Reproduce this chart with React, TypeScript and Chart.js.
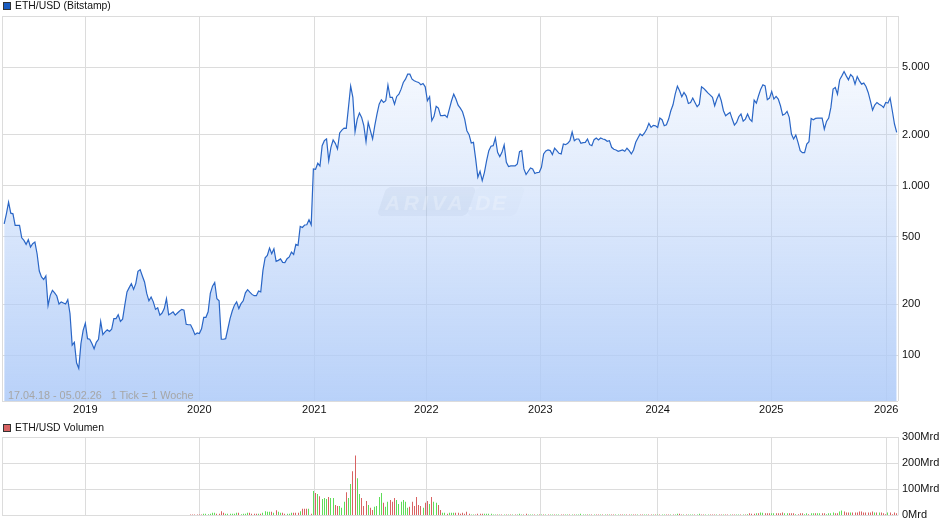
import React, { useEffect, useRef } from 'react';
import { Chart, registerables } from 'chart.js';

Chart.register(...registerables);

const FONT = '"Liberation Sans", Arial, sans-serif';

// week index 0 = 17.04.18, one value per week
const prices2018 = [595, 681, 798, 687, 681, 582, 582, 582, 492, 475, 450, 479, 434, 454, 464, 396, 313, 289, 279, 293, 196, 225, 241, 233, 223, 200, 206, 203, 200, 212, 176, 114.5, 119, 90, 83.5, 117, 140];
const prices2019 = [154, 125, 124, 117, 109, 119, 124, 158, 132, 137, 141, 138, 142, 164, 164, 173, 158, 163, 197, 236, 250, 264, 244, 264, 312, 319, 293, 270, 231, 209, 220, 206, 186, 190, 172, 177, 188, 215, 173, 176, 180, 172, 177, 182, 186, 184, 152, 151, 151, 142, 132, 135];
const prices2020 = [134, 143, 167, 167, 180, 231, 255, 268, 215, 209, 124, 124, 125, 143, 164, 182, 197, 206, 188, 201, 209, 233, 243, 235, 228, 224, 224, 239, 236, 316, 375, 387, 428, 396, 424, 357, 362, 369, 352, 351, 370, 379, 405, 392, 450, 444, 574, 566, 585, 587, 628, 587];
const prices2021 = [1253, 1247, 1353, 1305, 1719, 1840, 1882, 1403, 1681, 1856, 1774, 1643, 2042, 2124, 2183, 2173, 2890, 3857, 3311, 2080, 2466, 2675, 2523, 2254, 1815, 2358, 2106, 1882, 2254, 2640, 3020, 3206, 3090, 3162, 3910, 3311, 3311, 3020, 3353, 3460, 3704, 4055, 4240, 4540, 4540, 4240, 4146, 4092, 4055, 3929, 4000, 3823];
const prices2022 = [3162, 3338, 2412, 2558, 2929, 2863, 2582, 2582, 2604, 2523, 2825, 3162, 3460, 3236, 2981, 2863, 2725, 2466, 2106, 1995, 1783, 1798, 1435, 1119, 1214, 1070, 1197, 1403, 1607, 1704, 1719, 1907, 1570, 1481, 1570, 1735, 1372, 1293, 1305, 1305, 1305, 1342, 1585, 1607, 1253, 1161, 1214, 1270, 1253, 1177, 1193, 1197];
const prices2023 = [1282, 1536, 1600, 1621, 1607, 1522, 1660, 1607, 1549, 1536, 1758, 1742, 1774, 1840, 2069, 1840, 1882, 1882, 1774, 1790, 1798, 1882, 1742, 1719, 1865, 1907, 1856, 1907, 1882, 1865, 1823, 1840, 1681, 1636, 1621, 1592, 1607, 1621, 1592, 1660, 1607, 1536, 1621, 1798, 1907, 2014, 1968, 2042, 2153, 2327, 2203, 2264, 2254];
const prices2024 = [2203, 2500, 2445, 2254, 2285, 2466, 2762, 2994, 3460, 3857, 3622, 3338, 3540, 3383, 3050, 3090, 3280, 3090, 2917, 3020, 3823, 3741, 3622, 3508, 3415, 3311, 2955, 3236, 3460, 3162, 2762, 2582, 2640, 2700, 2466, 2275, 2358, 2547, 2640, 2400, 2466, 2640, 2466, 2390, 3190, 3063, 3383, 3704, 3929, 3873, 3206, 3280];
const prices2025 = [3589, 3236, 3353, 3236, 2955, 2604, 2640, 2737, 2523, 2014, 1882, 1986, 1798, 1607, 1563, 1563, 1758, 1815, 2489, 2445, 2489, 2500, 2500, 2500, 2153, 2390, 2500, 2890, 3704, 3786, 3460, 4203, 4436, 4705, 4436, 4203, 4519, 4375, 3963, 4396, 4146, 3963, 4018, 3840, 3540, 3162, 2786, 2981, 3090, 3020, 2969, 2890];
const prices2026 = [3090, 3063, 3280, 2762, 2306, 2060];
const priceChunks: [number, number[]][] = [
  [0, prices2018], [37, prices2019], [89, prices2020], [141, prices2021], [193, prices2022],
  [245, prices2023], [298, prices2024], [350, prices2025], [402, prices2026],
];

const volumeStartWeek = 85;
const volumes = [
  2.5, 2.5, 2.5, 2.5, 2.5, 2.5, 6, 6, 4, 6,
  10, 10, 6, 6, 16, 10, 6, 6, 6, 6,
  6, 10, 10, 4, 6, 6, 10, 10, 6, 6,
  6, 6, 6, 10, 16, 14, 14, 14, 10, 20,
  14, 10, 10, 6, 6, 6, 10, 10, 10, 10,
  16, 25, 25, 25, 25, 6,
  93, 86, 82, 73, 63, 67, 63, 70, 67, 67,
  40, 36, 36, 29, 52, 89, 67, 120, 169, 229,
  142, 82, 67, 36, 55, 40, 29, 21, 33, 36,
  70, 86, 48, 33, 52, 59, 52, 67, 59, 44,
  52, 59, 52, 29, 33, 52, 36, 70, 40, 36,
  29, 48, 55, 44, 70, 52, 48, 40, 21, 10,
  10, 6, 10, 10, 10, 10, 10, 6, 10, 6,
  14, 6, 2.5, 2.5, 2.5, 6, 6, 6, 6, 6,
  6, 6, 2.5, 2.5, 2.5,
  3, 3, 2, 2, 3, 2, 3, 3, 3, 6,
  3, 2, 6, 3, 2, 2, 2, 2, 2, 3,
  2, 3, 3, 2, 2, 2, 3, 2, 3, 2,
  3, 2, 3, 3, 2, 3, 3, 6, 3, 2,
  2, 3, 2, 2, 3, 2, 3, 2, 2, 3,
  2, 2, 3, 3, 2, 2, 3, 2, 3, 2,
  3, 2, 3, 2, 2, 2, 3, 2, 3, 2,
  2, 3, 2, 3, 3, 2, 2, 3, 2, 3,
  3, 6, 6, 3, 2, 3, 2, 2,
  3, 2, 2, 6, 3, 2, 2, 2, 3, 2,
  3, 2, 2, 3, 2, 3, 2, 3, 3, 2,
  3, 2, 2, 3, 2, 4,
  8, 6, 6, 8, 8, 11, 10, 8, 8, 8,
  8, 8, 8, 8, 8, 11, 8, 8, 8, 8,
  8, 4, 4, 8, 8, 4, 8, 4, 8, 8,
  8, 8, 8, 8, 8, 4, 8, 8, 11, 8,
  8, 15, 19, 15, 11, 11, 11, 11, 11, 11,
  15, 15, 11, 11, 11, 11, 15, 11, 11, 11,
  11, 8, 4, 11, 11, 4, 11, 8,
];
// g = week closed up, r = week closed down
const volumeTrend = [
  'rrrrrrgggg', 'ggrrrrgggg', 'ggrggggrrr', 'rgrggggrgr', 'ggrrgggrrr', 'grrrgr',
  'grgrgggrgg', 'rrgggrggrr', 'ggrrrgrrgg', 'ggrggrrrgg', 'ggggrrrrrr', 'grrgrggrrg', 'grgggrrrrr', 'rrggrrrrgg', 'ggggr',
  'grgrgrgrgg', 'grrgggrgrg', 'rgrggrggrr', 'ggrgrggggg', 'rgrgrrgrgr', 'grrggrrgrr', 'grrgrrggrr', 'grgrggrrgr', 'ggrrgrgg', 'grggrrggrr', 'rgrrgrrgrr', 'ggrgrg',
  'rrrgrggrrr', 'ggrrrrggrr', 'rgrrrggrgg', 'rggrrggggr', 'rggrrrgrrr', 'rrrrrrrgrg', 'rrrgrrrr',
].join('');

const yearWeeks = [37, 89, 141.4, 192.5, 244.5, 298, 349.8, 402.2];
const yearLabels = ['2019', '2020', '2021', '2022', '2023', '2024', '2025', '2026'];
const priceTicks = [100, 200, 500, 1000, 2000, 5000];
const volumeTicks = [0, 100, 200, 300];

const X_MIN = -1;
const X_MAX = 407.6;
const PRICE_MIN = 53.6;
const PRICE_MAX = 10000;

const GRID = '#dcdcdc';
const TICK_FONT = { family: FONT, size: 11 };

const pricePoints = priceChunks.flatMap(([start, values]) => values.map((y, i) => ({ x: start + i, y })));
const volumePoints = volumes.map((y, i) => ({ x: volumeStartWeek + i, y }));

const frameTicks = [X_MIN, ...yearWeeks, X_MAX];
const xTickLabel = (value: number) => {
  const i = yearWeeks.indexOf(value);
  return i >= 0 ? yearLabels[i] : '';
};

// the ARIVA.DE stamp behind the line
const watermark = {
  id: 'watermark',
  afterDatasetsDraw(chart: Chart) {
    const c = chart.ctx;
    c.save();
    c.transform(1, 0, -0.34, 1, 386.5, 187);
    c.beginPath();
    c.roundRect(0, 0, 90, 29, 5);
    c.fillStyle = 'rgba(90,110,150,0.07)';
    c.fill();
    c.beginPath();
    c.roundRect(90, 0, 49, 29, 5);
    c.fillStyle = 'rgba(90,110,150,0.025)';
    c.fill();
    c.restore();
    c.save();
    c.font = `italic bold 21px ${FONT}`;
    c.textBaseline = 'alphabetic';
    c.fillStyle = 'rgba(255,255,255,0.24)';
    c.letterSpacing = '3.5px';
    c.fillText('ARIVA', 385, 210);
    c.letterSpacing = '1.5px';
    c.fillText('.DE', 468, 210);
    c.restore();
  },
};

// one-pixel bars sit on whole pixels, as in the original image
const snapBars = {
  id: 'snapBars',
  afterDatasetsUpdate(chart: Chart) {
    chart.getDatasetMeta(0).data.forEach((bar: any) => {
      bar.x = Math.floor(bar.x) + 0.5;
    });
  },
};

const labelStyle: React.CSSProperties = {
  position: 'absolute',
  font: `10.4px ${FONT}`,
  lineHeight: '12px',
  color: '#111',
  whiteSpace: 'pre',
};

const swatch = (top: number, color: string): React.CSSProperties => ({
  position: 'absolute',
  left: 3,
  top,
  width: 6,
  height: 6,
  background: color,
  border: '1px solid #333',
});

const App: React.FC = () => {
  const priceRef = useRef<HTMLCanvasElement | null>(null);
  const volumeRef = useRef<HTMLCanvasElement | null>(null);

  useEffect(() => {
    if (!priceRef.current || !volumeRef.current) return;

    const priceChart = new Chart(priceRef.current, {
      type: 'line',
      data: {
        datasets: [
          {
            data: pricePoints,
            borderColor: '#2a66c6',
            borderWidth: 1.2,
            pointRadius: 0,
            tension: 0,
            fill: 'start',
            backgroundColor: (ctx: any) => {
              const area = ctx.chart.chartArea;
              if (!area) return 'transparent';
              const g = ctx.chart.ctx.createLinearGradient(0, area.top, 0, area.bottom);
              g.addColorStop(0, 'rgba(175,203,248,0)');
              g.addColorStop(1, 'rgba(175,203,248,0.88)');
              return g;
            },
          },
        ],
      },
      options: {
        responsive: false,
        animation: false,
        layout: { padding: { left: 2, top: 16, right: 0, bottom: 0 } },
        plugins: { legend: { display: false }, tooltip: { enabled: false } },
        scales: {
          x: {
            type: 'linear',
            min: X_MIN,
            max: X_MAX,
            afterBuildTicks: (s: any) => {
              s.ticks = frameTicks.map((value) => ({ value }));
            },
            afterFit: (s: any) => {
              s.height = 16;
            },
            grid: { color: GRID, tickLength: 0 },
            border: { display: false },
            ticks: {
              autoSkip: false,
              maxRotation: 0,
              padding: 2,
              color: '#111',
              font: TICK_FONT,
              callback: (v: any) => xTickLabel(v),
            },
          },
          y: {
            type: 'logarithmic',
            position: 'right',
            min: PRICE_MIN,
            max: PRICE_MAX,
            afterBuildTicks: (s: any) => {
              s.ticks = [PRICE_MIN, ...priceTicks, PRICE_MAX].map((value) => ({ value }));
            },
            afterFit: (s: any) => {
              s.width = 42;
            },
            grid: { color: GRID, tickLength: 0 },
            border: { display: false },
            ticks: {
              autoSkip: false,
              padding: 4,
              color: '#111',
              font: TICK_FONT,
              callback: (v: any) => (priceTicks.includes(v) ? v.toLocaleString('de-DE') : ''),
            },
          },
        },
      },
      plugins: [watermark],
    });

    const volumeChart = new Chart(volumeRef.current, {
      type: 'bar',
      data: {
        datasets: [
          {
            data: volumePoints,
            backgroundColor: volumes.map((_, i) => (volumeTrend[i] === 'g' ? '#5fdc58' : '#d86262')),
            barThickness: 1,
            minBarLength: 1,
            inflateAmount: 0,
          },
        ],
      },
      options: {
        responsive: false,
        animation: false,
        layout: { padding: { left: 2, top: 19, right: 0, bottom: 8 } },
        plugins: { legend: { display: false }, tooltip: { enabled: false } },
        scales: {
          x: {
            type: 'linear',
            min: X_MIN,
            max: X_MAX,
            offset: false,
            afterBuildTicks: (s: any) => {
              s.ticks = frameTicks.map((value) => ({ value }));
            },
            afterFit: (s: any) => {
              s.height = 0;
            },
            grid: { color: GRID, tickLength: 0, offset: false },
            border: { display: false },
            ticks: { display: false, autoSkip: false },
          },
          y: {
            position: 'right',
            min: 0,
            max: 300,
            afterBuildTicks: (s: any) => {
              s.ticks = volumeTicks.map((value) => ({ value }));
            },
            afterFit: (s: any) => {
              s.width = 42;
            },
            grid: { color: GRID, tickLength: 0 },
            border: { display: false },
            ticks: {
              autoSkip: false,
              padding: 4,
              color: '#111',
              font: TICK_FONT,
              callback: (v: any) => `${v}Mrd`,
            },
          },
        },
      },
      plugins: [snapBars],
    });

    return () => {
      priceChart.destroy();
      volumeChart.destroy();
    };
  }, []);

  return (
    <div style={{ position: 'absolute', left: 0, top: 0, width: 940, height: 526, overflow: 'hidden', background: '#fff' }}>
      <canvas ref={priceRef} width={940} height={417} style={{ position: 'absolute', left: 0, top: 0 }} />
      <canvas ref={volumeRef} width={940} height={108} style={{ position: 'absolute', left: 0, top: 418 }} />
      <div style={swatch(2, '#1a5cc0')} />
      <div style={{ ...labelStyle, left: 15, top: 0 }}>ETH/USD (Bitstamp)</div>
      <div style={swatch(424, '#d86262')} />
      <div style={{ ...labelStyle, left: 15, top: 422 }}>ETH/USD Volumen</div>
      <div style={{ ...labelStyle, left: 8, top: 389, fontSize: 10.8, color: '#a6a6a6' }}>17.04.18 - 05.02.26   1 Tick = 1 Woche</div>
    </div>
  );
};

export default App;
